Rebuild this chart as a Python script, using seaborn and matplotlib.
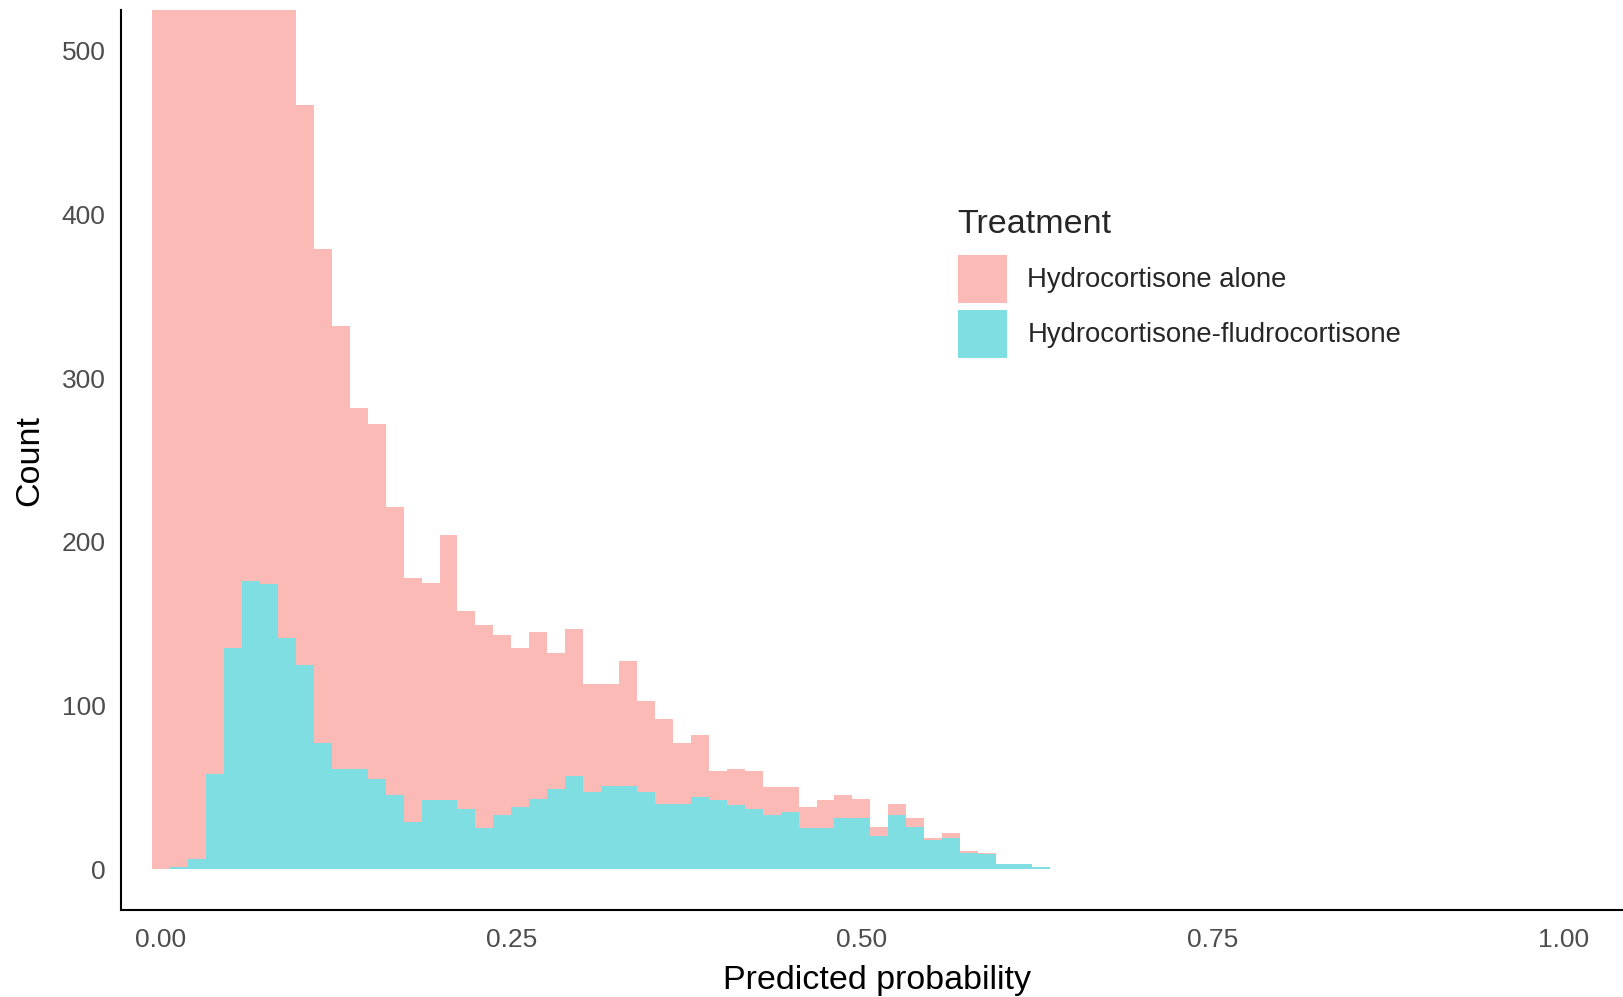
import numpy as np
import pandas as pd
import matplotlib
matplotlib.use("Agg")
import matplotlib.pyplot as plt
from matplotlib.patches import Patch
import seaborn as sns

# Counts per bin (50 bins), bars 0-7 of the first group run past the top
groups = ["Hydrocortisone alone", "Hydrocortisone-fludrocortisone"]
alone_counts = [1150, 1079, 974, 792, 625, 504, 436, 419, 342, 302,
                271, 221, 217, 176, 149, 133, 162, 121, 124, 110,
                97, 102, 83, 90, 66, 62, 76, 56, 52, 37,
                38, 18, 22, 23, 17, 15, 13, 17, 14, 12,
                6, 7, 5, 1, 3, 1, 1, 0, 0, 0]
fludro_counts = [0, 1, 6, 58, 135, 176, 174, 141, 125, 77,
                 61, 61, 55, 45, 29, 42, 42, 37, 25, 33,
                 38, 43, 49, 57, 47, 51, 51, 47, 40, 40,
                 44, 42, 39, 37, 33, 35, 25, 25, 31, 31,
                 20, 33, 26, 18, 19, 10, 9, 3, 3, 1]
x_ticks = [0.00, 0.25, 0.50, 0.75, 1.00]
x_tick_labels = ["0.00", "0.25", "0.50", "0.75", "1.00"]
y_ticks = [0, 100, 200, 300, 400, 500]

bin_start = -0.006
bin_width = 0.0128
n_bins = len(alone_counts)
edges = bin_start + bin_width * np.arange(n_bins + 1)
centers = (edges[:-1] + edges[1:]) / 2

df = pd.DataFrame({
    "prob": np.concatenate([centers, centers]),
    "count": alone_counts + fludro_counts,
    "Treatment": [groups[0]] * n_bins + [groups[1]] * n_bins,
})

sns.set_style("white")
plt.rcParams["font.family"] = ["Liberation Sans", "DejaVu Sans"]

fig = plt.figure(figsize=(16.23, 9.97), dpi=100)
ax = fig.add_axes([120.7 / 1623, 1 - 910 / 997, (1623 - 120.7) / 1623, 900 / 997])

palette = {groups[0]: "#F8766D", groups[1]: "#00BFC4"}
sns.histplot(data=df, x="prob", weights="count", hue="Treatment",
             hue_order=groups, binwidth=bin_width,
             binrange=(float(edges[0]), float(edges[-1])), multiple="stack",
             palette=palette, alpha=0.5, linewidth=0, legend=False, ax=ax)

ax.set_xlim(-0.0285, 1.0426)
ax.set_ylim(-25, 525)
ax.set_xticks(x_ticks)
ax.set_xticklabels(x_tick_labels)
ax.set_yticks(y_ticks)
for side in ["top", "right"]:
    ax.spines[side].set_visible(False)
for side in ["left", "bottom"]:
    ax.spines[side].set_color("black")
    ax.spines[side].set_linewidth(1.5)
ax.tick_params(axis="both", length=6, width=1.5, color="#333333",
               labelsize=19, labelcolor="#4D4D4D")
ax.tick_params(axis="x", pad=7)
ax.tick_params(axis="y", pad=5)

ax.set_xlabel("Predicted probability", fontsize=24.5, color="black", labelpad=9)
ax.set_ylabel("Count", fontsize=24.5, color="black", labelpad=12)
ax.xaxis.label.set_x(0.5034)

handles = [Patch(facecolor=palette[g], alpha=0.5, edgecolor="none") for g in groups]
leg = ax.legend(handles, groups, title="Treatment", loc="upper left",
                bbox_to_anchor=(944 / 1623, 1 - 195 / 997),
                bbox_transform=fig.transFigure, frameon=False,
                fontsize=19.8, title_fontsize=24.5, borderpad=0,
                handlelength=1.78, handleheight=2.3, labelspacing=0.25,
                handletextpad=0.75, alignment="left")
leg._legend_box.sep = 11

fig.savefig("out.png", dpi=100)
